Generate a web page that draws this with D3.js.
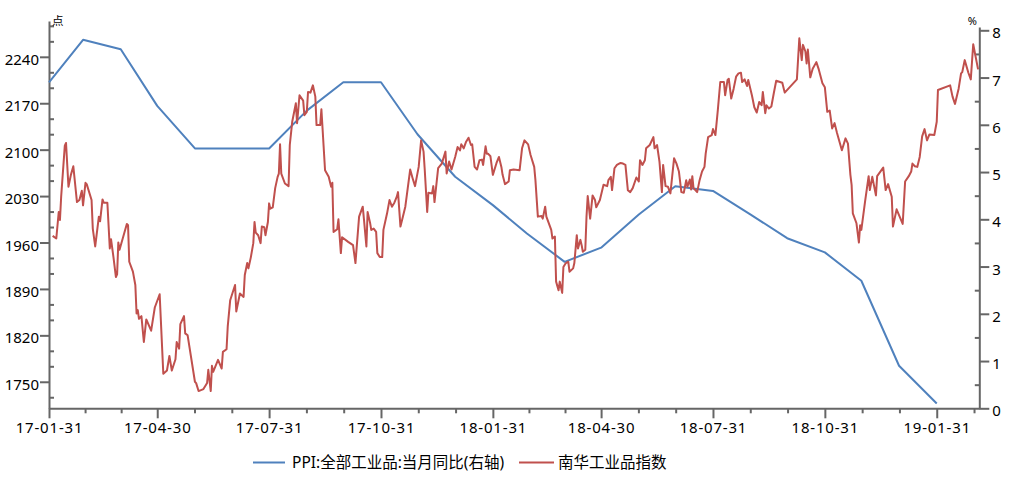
<!DOCTYPE html>
<html><head><meta charset="utf-8">
<script src="https://cdn.jsdelivr.net/npm/d3@7"></script>
<style>
body{margin:0;background:#fff}
svg{display:block}
text{font-family:"Noto Sans","Noto Sans CJK SC",sans-serif;fill:#000}
</style>
</head><body>
<svg id="c" width="1013" height="479"></svg>
<script>
// ---------- data ----------
const ppiDates = ["17-01-31","17-02-28","17-03-31","17-04-30","17-05-31","17-06-30","17-07-31","17-08-31","17-09-30","17-10-31","17-11-30","17-12-31",
  "18-01-31","18-02-28","18-03-31","18-04-30","18-05-31","18-06-30","18-07-31","18-08-31","18-09-30","18-10-31","18-11-30","18-12-31","19-01-31"];
const ppiValues = [6.9,7.8,7.6,6.4,5.5,5.5,5.5,6.3,6.9,6.9,5.8,4.9,4.3,3.7,3.1,3.4,4.1,4.7,4.6,4.1,3.6,3.3,2.7,0.9,0.1];

const nanhuaDates = [
"17-02-03","17-02-06","17-02-08","17-02-09","17-02-10","17-02-13","17-02-14","17-02-16","17-02-18","17-02-20","17-02-23","17-02-25","17-02-27","17-02-28",
"17-03-02","17-03-03","17-03-07","17-03-08","17-03-10","17-03-13","17-03-14","17-03-16","17-03-17","17-03-20","17-03-22","17-03-23","17-03-25","17-03-27","17-03-28","17-03-29","17-03-30",
"17-04-05","17-04-06","17-04-07","17-04-10","17-04-12","17-04-13","17-04-14","17-04-15","17-04-17","17-04-19","17-04-21","17-04-25","17-04-28",
"17-05-02","17-05-05","17-05-08","17-05-10","17-05-12","17-05-15","17-05-16","17-05-18","17-05-19","17-05-22","17-05-23","17-05-25","17-05-31",
"17-06-01","17-06-03","17-06-07","17-06-10","17-06-11","17-06-13","17-06-14","17-06-15","17-06-19","17-06-22","17-06-23","17-06-26","17-06-27","17-06-29",
"17-07-03","17-07-04","17-07-07","17-07-10","17-07-11","17-07-13","17-07-14","17-07-16","17-07-18","17-07-19","17-07-20","17-07-22","17-07-24","17-07-25","17-07-27","17-07-28","17-07-30","17-07-31",
"17-08-01","17-08-03","17-08-05","17-08-07","17-08-08","17-08-09","17-08-10","17-08-13","17-08-16","17-08-17","17-08-19","17-08-22","17-08-23","17-08-25","17-08-28","17-08-29","17-08-31",
"17-09-01","17-09-03","17-09-05","17-09-07","17-09-08","17-09-11","17-09-12","17-09-15","17-09-18","17-09-20","17-09-21","17-09-22","17-09-25","17-09-26","17-09-28","17-09-29",
"17-10-04","17-10-08","17-10-10","17-10-13","17-10-16","17-10-17","17-10-19","17-10-20","17-10-22","17-10-23","17-10-25","17-10-27","17-10-28","17-10-30",
"17-11-01","17-11-02","17-11-05","17-11-07","17-11-09","17-11-11","17-11-13","17-11-14","17-11-16","17-11-18","17-11-20","17-11-22","17-11-24","17-11-26","17-11-28",
"17-12-01","17-12-03","17-12-05","17-12-06","17-12-08","17-12-09","17-12-12","17-12-13","17-12-14","17-12-17","17-12-20","17-12-23","17-12-24","17-12-26","17-12-28","17-12-31",
"18-01-02","18-01-04","18-01-05","18-01-07","18-01-09","18-01-11","18-01-13","18-01-14","18-01-16","18-01-18","18-01-20","18-01-22","18-01-23","18-01-25","18-01-26","18-01-27","18-01-29","18-01-31",
"18-02-03","18-02-05","18-02-07","18-02-08","18-02-10","18-02-13","18-02-14","18-02-17","18-02-22","18-02-24","18-02-26",
"18-03-01","18-03-03","18-03-06","18-03-07","18-03-09","18-03-12","18-03-13","18-03-15","18-03-16","18-03-20","18-03-21","18-03-23","18-03-24","18-03-26","18-03-27","18-03-29","18-03-30",
"18-04-01","18-04-03","18-04-04","18-04-07","18-04-08","18-04-10","18-04-11","18-04-13","18-04-14","18-04-15","18-04-17","18-04-18","18-04-19","18-04-21","18-04-23","18-04-25","18-04-26","18-04-29",
"18-05-02","18-05-05","18-05-06","18-05-08","18-05-09","18-05-11","18-05-13","18-05-16","18-05-18","18-05-20","18-05-22","18-05-24","18-05-26","18-05-29","18-05-31",
"18-06-01","18-06-03","18-06-05","18-06-06","18-06-09","18-06-12","18-06-13","18-06-15","18-06-17","18-06-19","18-06-20","18-06-22","18-06-24","18-06-26","18-06-29",
"18-07-01","18-07-03","18-07-05","18-07-07","18-07-09","18-07-10","18-07-12","18-07-13","18-07-14","18-07-15","18-07-18","18-07-20","18-07-22","18-07-24","18-07-25","18-07-27","18-07-30","18-07-31",
"18-08-02","18-08-04","18-08-06","18-08-09","18-08-10","18-08-12","18-08-13","18-08-15","18-08-17","18-08-19","18-08-21","18-08-23","18-08-24","18-08-26","18-08-28","18-08-29",
"18-09-01","18-09-03","18-09-05","18-09-07","18-09-09","18-09-10","18-09-12","18-09-13","18-09-15","18-09-17","18-09-19","18-09-21","18-09-26","18-09-28",
"18-10-08","18-10-10","18-10-12","18-10-13","18-10-15","18-10-16","18-10-17","18-10-19","18-10-21","18-10-24","18-10-26","18-10-29","18-10-31",
"18-11-02","18-11-04","18-11-06","18-11-08","18-11-10","18-11-14","18-11-17","18-11-19","18-11-21","18-11-22","18-11-23","18-11-26","18-11-28","18-11-29","18-11-30",
"18-12-03","18-12-06","18-12-07","18-12-09","18-12-12","18-12-13","18-12-18","18-12-20","18-12-22","18-12-25","18-12-26","18-12-29",
"19-01-03","19-01-05","19-01-08","19-01-10","19-01-11","19-01-13","19-01-15","19-01-17","19-01-19","19-01-21","19-01-23","19-01-25","19-01-29","19-01-31",
"19-02-01","19-02-11","19-02-13","19-02-15","19-02-18","19-02-20","19-02-21","19-02-23","19-02-26","19-02-28",
"19-03-02","19-03-06"];
const nanhuaValues = [
1970,1966,2006,1994,2029,2106,2110,2044,2062,2075,2021,2024,2038,2016,
2050,2048,2024,1981,1954,1999,1992,2025,2020,2020,1951,1965,1938,1908,1912,1960,1949,
1988,1986,1931,1916,1896,1853,1858,1845,1849,1810,1844,1827,1862,
1882,1762,1767,1789,1767,1784,1810,1800,1837,1849,1823,1820,1750,
1748,1736,1739,1748,1768,1736,1774,1765,1783,1770,1795,1799,1834,1873,
1896,1856,1883,1878,1911,1929,1921,1938,1959,1991,1975,1971,1959,1984,1983,1971,1991,2019,
2011,2013,2042,2059,2064,2108,2064,2049,2045,2107,2142,2170,2140,2182,2174,2152,2157,
2187,2186,2197,2180,2137,2137,2161,2069,2059,2044,2050,1976,1980,1995,1944,1968,
1961,1956,1929,1999,2014,1995,1954,2006,1990,1979,1981,1976,1944,1938,
1938,1979,2004,2024,2014,2020,2029,2036,1984,1999,2014,2042,2070,2057,2045,
2074,2114,2097,2069,2006,2035,2034,2045,2021,2072,2079,2097,2064,2082,2070,2089,
2104,2099,2108,2102,2112,2118,2107,2108,2074,2070,2084,2085,2077,2105,2094,2094,2090,2062,
2080,2089,2074,2062,2048,2052,2069,2070,2069,2102,2114,
2108,2092,2074,2054,1999,2000,1996,2014,1999,1979,1966,1969,1901,1888,1901,1884,1923,
1929,1931,1916,1921,1929,1971,1951,1964,1956,1946,1949,1999,2030,1996,2031,2024,2013,2024,
2047,2045,2054,2059,2039,2072,2077,2080,2079,2077,2039,2036,2042,2058,2052,
2084,2077,2084,2102,2107,2119,2102,2107,2082,2036,2077,2045,2044,2034,2087,
2079,2067,2036,2035,2054,2044,2055,2040,2060,2042,2036,2054,2067,2074,2094,2119,2122,2131,
2122,2160,2202,2202,2182,2205,2207,2177,2192,2210,2215,2216,2202,2206,2196,2205,
2182,2164,2156,2172,2167,2187,2155,2167,2162,2165,2185,2204,2201,2186,
2206,2268,2235,2258,2248,2230,2251,2209,2222,2232,2221,2200,2194,
2157,2159,2132,2140,2125,2099,2117,2109,2062,2047,2004,1989,1960,1986,1979,
2021,2060,2039,2059,2031,2060,2073,2039,2048,2029,1984,2010,
1988,2052,2060,2067,2079,2075,2074,2089,2120,2131,2114,2123,2122,2142,
2190,2197,2180,2169,2192,2215,2217,2235,2216,2206,
2259,2221];

const leftTicks = [1750,1820,1890,1960,2030,2100,2170,2240];
const rightTicks = [0,1,2,3,4,5,6,7,8];
const xTickLabels = ["17-01-31","17-04-30","17-07-31","17-10-31","18-01-31","18-04-30","18-07-31","18-10-31","19-01-31"];
const seriesNames = ["PPI:全部工业品:当月同比(右轴)","南华工业品指数"];
const leftUnit = "点", rightUnit = "%";

// ---------- setup ----------
const parse = d3.timeParse("%y-%m-%d");
const svg = d3.select("#c");
const AX = "#666", BLUE = "#4F81BD", RED = "#C0504D";
const plotL = 49, plotR = 979.3, plotB = 408.3;

const x = d3.scaleTime().domain([parse("17-01-31"), parse("19-03-07")]).range([plotL, plotR]);
const yL = d3.scaleLinear().domain([1710, 2294]).range([plotB, 21]);
const yR = d3.scaleLinear().domain([0, 8.07]).range([plotB, 27]);

// minor ticks
const step = 70/3;
const leftMinor = d3.range(1750 - step, 2294, step).filter((v,i)=> (i % 3) !== 1);
const rightMinor = d3.range(0.5, 8.07, 1);
const majorDates = xTickLabels.map(parse);
const xMinor = [];
majorDates.forEach((d,i)=>{
  const next = majorDates[i+1];
  const span = next ? (next - d) : (d - majorDates[i-1]);
  for (let k=1;k<=2;k++){
    const t = new Date(+d + span*k/3);
    if (x(t) <= plotR) xMinor.push(t);
  }
});

function styleAxis(g){
  g.selectAll("path.domain").attr("stroke", AX).attr("stroke-width", 2);
  g.selectAll(".tick line").attr("stroke", AX).attr("stroke-width", 2);
  g.selectAll("text").attr("font-size", 15).attr("fill", "#000")
    .attr("font-family", '"Noto Sans", sans-serif');
}

// minor tick axes
svg.append("g").attr("transform", `translate(${plotL},0)`)
  .call(d3.axisLeft(yL).tickValues(leftMinor).tickSize(-5).tickFormat(""))
  .call(g=>{g.select(".domain").remove(); g.selectAll("line").attr("stroke",AX).attr("stroke-width",2);});
svg.append("g").attr("transform", `translate(${plotR},0)`)
  .call(d3.axisRight(yR).tickValues(rightMinor).tickSize(-4.5).tickFormat(""))
  .call(g=>{g.select(".domain").remove(); g.selectAll("line").attr("stroke",AX).attr("stroke-width",2);});
svg.append("g").attr("transform", `translate(0,${plotB})`)
  .call(d3.axisBottom(x).tickValues(xMinor).tickSize(5).tickFormat(""))
  .call(g=>{g.select(".domain").remove(); g.selectAll("line").attr("stroke",AX).attr("stroke-width",2);});

// major axes
svg.append("g").attr("transform", `translate(${plotL},0)`)
  .call(d3.axisLeft(yL).tickValues(leftTicks).tickSize(9).tickSizeOuter(0).tickPadding(1).tickFormat(d3.format("d")))
  .call(styleAxis)
  .call(g=>g.selectAll("text").attr("dy","0.5em"));
svg.append("g").attr("transform", `translate(${plotR},0)`)
  .call(d3.axisRight(yR).tickValues(rightTicks).tickSize(10).tickSizeOuter(0).tickPadding(3).tickFormat(d3.format("d")))
  .call(styleAxis)
  .call(g=>g.selectAll("text").attr("dy","0.5em"));
svg.append("g").attr("transform", `translate(0,${plotB})`)
  .call(d3.axisBottom(x).tickValues(majorDates).tickSize(10).tickSizeOuter(0).tickPadding(4)
        .tickFormat((d,i)=>xTickLabels[i]))
  .call(styleAxis)
  .call(g=>g.selectAll("text").attr("letter-spacing","0.8px"));

// unit labels
svg.append("text").attr("x", 52).attr("y", 25).attr("font-size", 11.5)
  .attr("font-family", '"Noto Sans CJK SC", sans-serif').text(leftUnit);
svg.append("text").attr("x", 977).attr("y", 25).attr("font-size", 11)
  .attr("text-anchor", "end").text(rightUnit);

// lines
const ppiData = ppiDates.map((d,i)=>({d:parse(d), v:ppiValues[i]}));
const nhData = nanhuaDates.map((d,i)=>({d:parse(d), v:nanhuaValues[i]}));

svg.append("path").datum(ppiData)
  .attr("fill","none").attr("stroke",BLUE).attr("stroke-width",2).attr("stroke-linejoin","round")
  .attr("d", d3.line().x(p=>x(p.d)).y(p=>yR(p.v)));
svg.append("path").datum(nhData)
  .attr("fill","none").attr("stroke",RED).attr("stroke-width",2).attr("stroke-linejoin","round")
  .attr("d", d3.line().x(p=>x(p.d)).y(p=>yL(p.v)));

// legend
const legY = 462.5;
const leg = [{x0:253, x1:285, tx:292, c:BLUE, t:seriesNames[0]},
             {x0:519, x1:554, tx:558, c:RED, t:seriesNames[1]}];
leg.forEach(l=>{
  svg.append("line").attr("x1",l.x0).attr("x2",l.x1).attr("y1",legY).attr("y2",legY)
    .attr("stroke",l.c).attr("stroke-width",2);
  svg.append("text").attr("x",l.tx).attr("y",legY).attr("dy","0.35em")
    .attr("font-size",15.5).attr("font-family",'"Noto Sans","Noto Sans CJK SC",sans-serif').text(l.t);
});
</script>
</body></html>
